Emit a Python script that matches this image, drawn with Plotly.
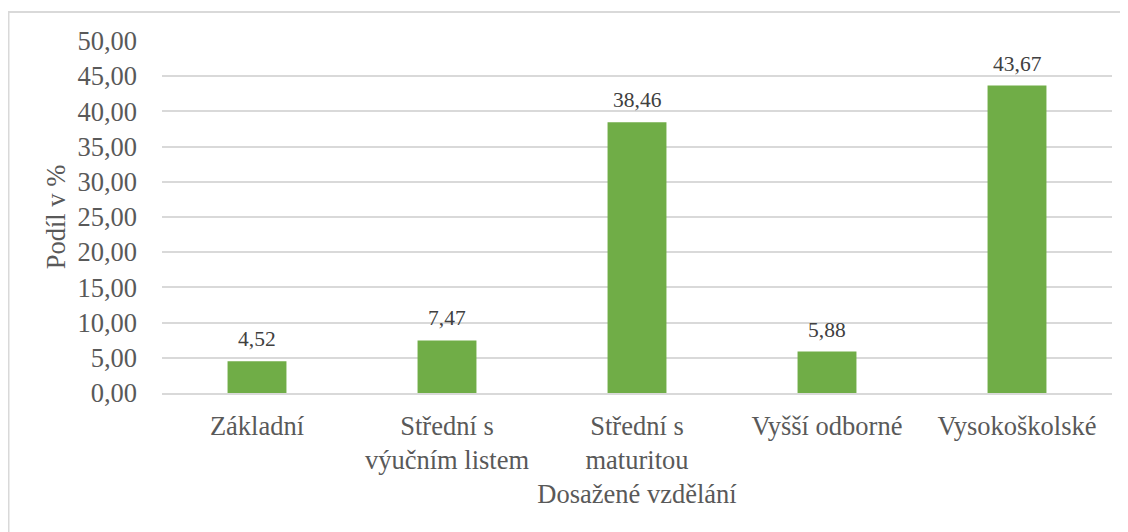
import plotly.graph_objects as go

categories = ["Základní", "Střední s<br>výučním listem", "Střední s<br>maturitou", "Vyšší odborné", "Vysokoškolské"]
values = [4.52, 7.47, 38.46, 5.88, 43.67]
y_ticks = [0, 5, 10, 15, 20, 25, 30, 35, 40, 45, 50]

FONT = "Liberation Serif"
GREY = "#595959"

fig = go.Figure()
fig.add_trace(go.Bar(
    x=categories, y=values,
    marker=dict(color="#70AD47", line=dict(width=0)),
    hoverinfo="skip",
))

for c, v in zip(categories, values):
    fig.add_annotation(
        x=c, y=v, text=f"{v:.2f}".replace(".", ","),
        showarrow=False, yanchor="bottom", yshift=8,
        font=dict(family=FONT, size=21.5, color="#404040"),
    )

# outer chart border (page has 8px body margin)
fig.add_shape(type="rect", xref="paper", yref="paper",
              x0=-(154 - 0.5) / 950, x1=1.2, y0=-0.6, y1=1 + (33 - 4) / 352,
              line=dict(color="#d9d9d9", width=2), fillcolor="rgba(0,0,0,0)",
              layer="below")

fig.update_layout(
    width=1120, height=524,
    margin=dict(l=154, r=16, t=33, b=139),
    paper_bgcolor="white", plot_bgcolor="white",
    separators=", ",
    bargap=0.69,
    showlegend=False,
    font=dict(family=FONT, color=GREY),
    xaxis=dict(
        showgrid=False, showline=True, linecolor="#d9d9d9", linewidth=1.5,
        ticks="", tickfont=dict(family=FONT, size=26.5, color=GREY),
        ticklabelstandoff=8,
        title=dict(text="Dosažené vzdělání", font=dict(family=FONT, size=26.5, color=GREY), standoff=10),
        fixedrange=True,
    ),
    yaxis=dict(
        range=[0, 50], tickvals=y_ticks, tickformat=".2f",
        showgrid=True, gridcolor="#d9d9d9", gridwidth=1.5,
        zeroline=False, showline=False, ticks="",
        tickfont=dict(family=FONT, size=26.5, color=GREY),
        ticklabelstandoff=24,
        title=dict(text="Podíl v %", font=dict(family=FONT, size=26.5, color=GREY), standoff=4),
        fixedrange=True,
    ),
)

fig.write_html("out.html")
